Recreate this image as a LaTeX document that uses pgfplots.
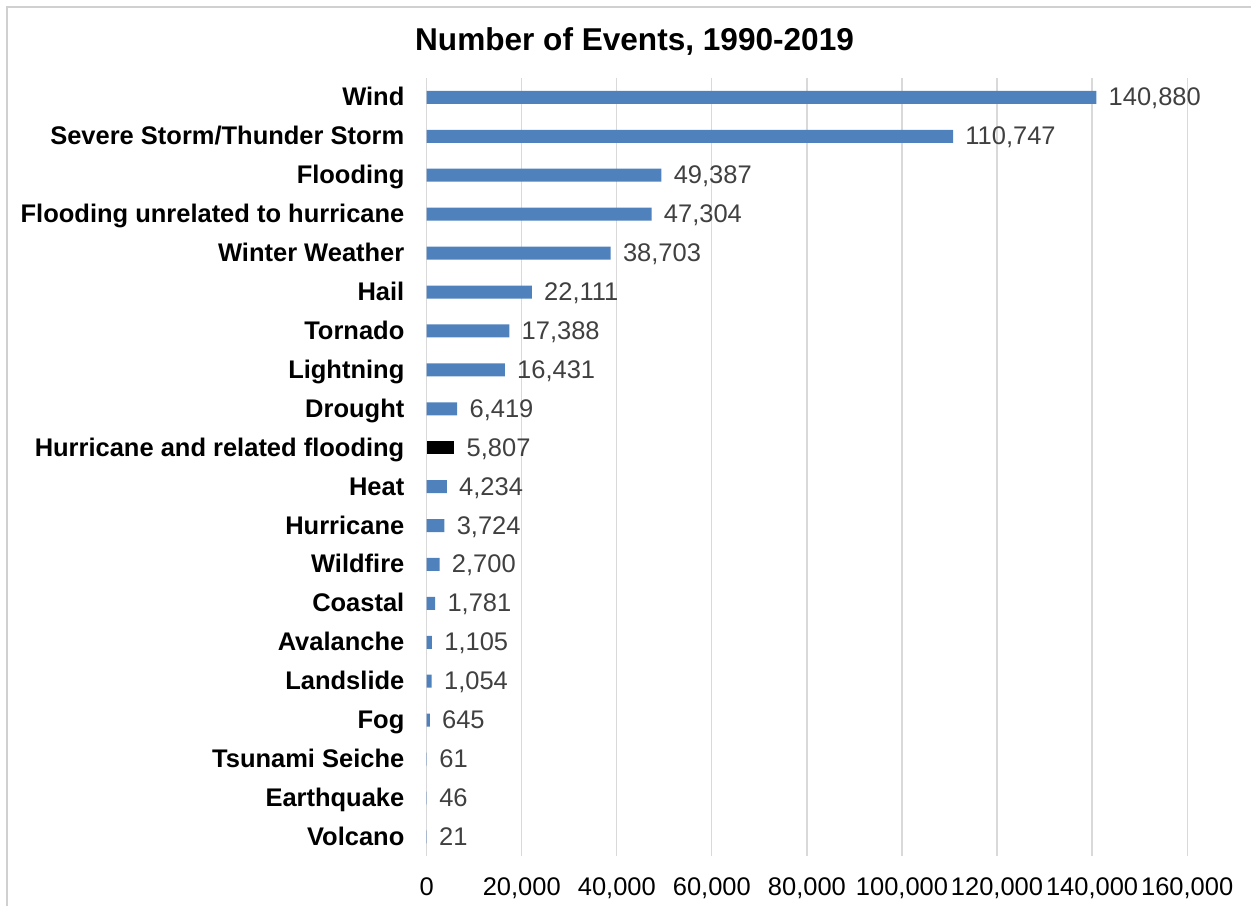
\documentclass[border=0pt]{standalone}
\usepackage{pgfplots}
\pgfplotsset{compat=1.18}
\usepackage{fontspec}
\setmainfont{Liberation Sans}
\definecolor{barblue}{HTML}{4F81BD}
\definecolor{gridgray}{HTML}{D9D9D9}
\definecolor{framegray}{HTML}{D0D0D0}
\definecolor{valgray}{HTML}{404040}

% Events per hazard type (row index, count)
\pgfplotstableread{
idx count
0 140880
1 110747
2 49387
3 47304
4 38703
5 22111
6 17388
7 16431
8 6419
10 4234
11 3724
12 2700
13 1781
14 1105
15 1054
16 645
17 61
18 46
19 21
}\eventsblue
\pgfplotstableread{
idx count
9 5807
}\eventsblack

\begin{document}
\begin{tikzpicture}
% page extent and the chart frame
\path (0,0) rectangle (626pt,453.5pt);
\draw[framegray, line width=0.9pt] (3.5pt,0) -- (3.5pt,450pt) -- (626pt,450pt);
\node[font=\fontsize{15.8}{19}\selectfont\bfseries] at (317.5pt,432.5pt) {Number of Events, 1990-2019};
\begin{axis}[
  at={(213.5pt,25pt)}, anchor=south west,
  scale only axis, width=380.5pt, height=389.5pt,
  xbar, bar width=6.5pt, bar shift=0pt,
  xmin=0, xmax=160000,
  ymin=-0.5, ymax=19.5, y dir=reverse,
  xtick={0,20000,...,160000},
  ytick={0,...,19},
  yticklabels={Wind,Severe Storm/Thunder Storm,Flooding,Flooding unrelated to hurricane,Winter Weather,Hail,Tornado,Lightning,Drought,Hurricane and related flooding,Heat,Hurricane,Wildfire,Coastal,Avalanche,Landslide,Fog,Tsunami Seiche,Earthquake,Volcano},
  scaled x ticks=false,
  /pgf/number format/.cd, fixed, precision=0, 1000 sep={,}, assume math mode=true,
  /pgfplots/.cd,
  axis line style={draw=none},
  major tick length=0pt,
  xmajorgrids, major grid style={gridgray, line width=0.6pt},
  xticklabel style={font=\fontsize{12.75}{15}\selectfont, anchor=base, yshift=-19.5pt, inner sep=0pt},
  yticklabel style={font=\fontsize{12.75}{15}\selectfont\bfseries, anchor=mid east, inner sep=0pt, xshift=-11pt, yshift=-1.6pt},
  nodes near coords,
  nodes near coords style={font=\fontsize{12.75}{15}\selectfont, text=valgray, anchor=mid west, inner sep=0pt, xshift=6pt, yshift=-1.6pt},
  clip=false,
]
\addplot[fill=barblue, draw=none] table[x=count, y=idx] {\eventsblue};
\addplot[fill=black, draw=none] table[x=count, y=idx] {\eventsblack};
\end{axis}
\end{tikzpicture}
\end{document}
